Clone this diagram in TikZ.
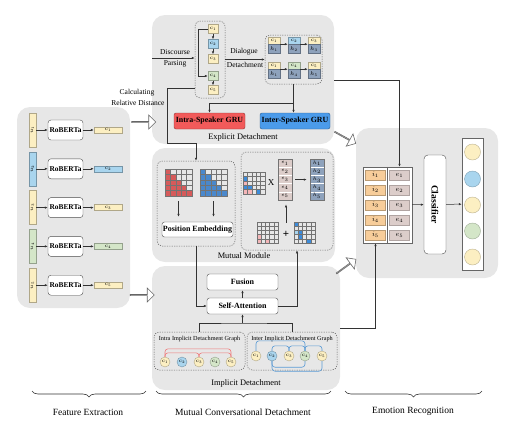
\RequirePackage{fix-cm}
\documentclass[tikz,border=0pt]{standalone}
\usepackage{fontspec}
\setmainfont{Liberation Serif}
\usepackage{tikz}
\usetikzlibrary{arrows.meta,positioning,shapes.arrows,decorations.pathreplacing}
\definecolor{panelgray}{HTML}{E7E7E7}
\definecolor{cy}{HTML}{FCEFC2}
\definecolor{cb}{HTML}{A9D5EE}
\definecolor{cg}{HTML}{D4E6C8}
\definecolor{hcolr}{HTML}{8EA2BC}
\definecolor{ecolr}{HTML}{DCCDCA}
\definecolor{iorange}{HTML}{F7CD9A}
\definecolor{grured}{HTML}{F25A5A}
\definecolor{grublue}{HTML}{4B9BEA}
\definecolor{matred}{HTML}{D65A5A}
\definecolor{matblue}{HTML}{4A88CC}
\definecolor{mpink}{HTML}{F4B6B8}
\definecolor{mblue}{HTML}{3D8BD9}
\definecolor{arcred}{HTML}{EF7B7B}
\definecolor{arcblue}{HTML}{5B9BD5}
\newcommand{\fsz}[1]{\fontsize{#1}{#1}\selectfont}
\tikzset{
  >={Latex[length=3pt,width=2.4pt]},
  panel/.style={fill=panelgray,rounded corners=13pt,inner sep=0pt},
  dotbox/.style={draw=black!60,dash pattern=on 1.2pt off 1.2pt,rounded corners=5pt,inner sep=0pt,line width=0.5pt},
  wbox/.style={draw=black!70,fill=white,rounded corners=2.5pt,inner sep=0pt,font=\bfseries\fsz{8}},
  lbl/.style={inner sep=0pt,font=\fsz{7.5}},
  ttl/.style={inner sep=0pt,font=\fsz{8.4}},
  tcell/.style={inner sep=0pt,font=\fsz{5.4},line width=0.4pt},
  arr/.style={->,draw=black!80,line width=0.5pt},
  link/.style={draw=black!80,line width=0.5pt},
  gline/.style={draw=black!55,line width=0.25pt},
  harrow/.style={single arrow,draw=black!60,fill=white,minimum height=24,minimum width=14,single arrow head extend=3.5pt,inner sep=0pt,line width=0.6pt},
  redarc/.style={draw=arcred,line width=0.6pt,rounded corners=3pt},
  bluearc/.style={draw=arcblue,line width=0.6pt,rounded corners=3pt},
  brc/.style={decorate,decoration={brace,amplitude=6pt,mirror},draw=black!80,line width=0.6pt}
}
% 5x5 grid with some coloured cells
\newcommand{\smat}[4]{%
  \foreach \ro/\co/\cc in {#4}{\fill[\cc] (#1+#3*\co-#3,#2+#3*\ro-#3) rectangle ++(#3,#3);}
  \foreach \ro in {1,...,5}{\foreach \co in {1,...,5}{\draw[gline] (#1+#3*\co-#3,#2+#3*\ro-#3) rectangle ++(#3,#3);}}}
% lower triangular grid
\newcommand{\trimat}[3]{%
  \foreach \ro in {1,...,5}{\foreach \co in {1,...,\ro}{\fill[#3] (#1+5.4*\co-5.4,#2+5.4*\ro-5.4) rectangle ++(5.4,5.4);}}
  \foreach \ro in {1,...,5}{\foreach \co in {1,...,5}{\draw[gline] (#1+5.4*\co-5.4,#2+5.4*\ro-5.4) rectangle ++(5.4,5.4);}}}

\begin{document}
\begin{tikzpicture}[x=1pt,y=-1pt]
  \useasboundingbox (0,0) rectangle (511,426);
  %%%% panels
  \node[panel,minimum width=113,minimum height=201] (fe) at (73.5,207.5) {}; % feature extraction
  \node[panel,minimum width=182,minimum height=129] (expl) at (243,79.5) {}; % explicit
  \node[panel,minimum width=183,minimum height=114] (mut) at (243.5,205) {}; % mutual
  \node[panel,minimum width=188,minimum height=124] (impl) at (246,328) {}; % implicit
  \node[panel,minimum width=142,minimum height=150] (emo) at (427,203) {}; % emotion
  \node[ttl] (texpl) at (243,137) {Explicit Detachment};
  \node[ttl] (tmut) at (244,256) {Mutual Module};
  \node[ttl] (timpl) at (246,383) {Implicit Detachment};
  %%%% hollow arrows between panels
  \node[harrow] (ha) at (143.5,122) {};
  \node[harrow] (hb) at (142,295) {};
  \node[harrow,rotate=-29] (hc) at (345,137.5) {};
  \node[harrow,rotate=36] (hd) at (346,266.5) {};

  %%%% feature extraction
  \foreach \i/\col [evaluate=\i as \yy using 130+(\i-1)*38.8] in {1/cy,2/cb,3/cy,4/cg,5/cy}{
    \node[tcell,fill=\col,draw=\col!70!black,minimum width=7,minimum height=34] (u\i) at (32.5,\yy) {\rotatebox{90}{$u_{\i}$}};
    \node[wbox,minimum width=35,minimum height=20,rounded corners=3pt,font=\bfseries\fsz{7.4}] (rb\i) at (65.5,\yy) {RoBERTa};
    \node[tcell,fill=\col,draw=\col!70!black,minimum width=28,minimum height=6] (f\i) at (108,\yy) {$c_{\i}$};
    \draw[arr] (u\i) -- (rb\i);
    \draw[arr] (rb\i) -- (f\i);
  }

  %%%% explicit detachment
  \node[dotbox,minimum width=30,minimum height=77] (dp) at (210,59.5) {}; % discourse
  \foreach \i/\col/\yy in {1/cy/29,2/cb/44,3/cy/59,4/cg/76,5/cy/90}
    \node[tcell,fill=\col,draw=\col!70!black,minimum width=10,minimum height=9] (p\i) at (213,\yy) {$c_{\i}$};
  \draw[arr] (p1) -- (p2);
  \draw[arr] (p2) -- (p3);
  \draw[arr] (p4) -- (p5);
  \draw[arr] (p1.west) -- ++(-10,0) |- (p4.west);
  \coordinate (dpin) at (152,58);
  \draw[arr] (dpin) -- (dpin -| dp.west);
  \node[lbl] (tdis) at (175,52) {Discourse};
  \node[lbl] (tpar) at (175,64) {Parsing};

  \node[dotbox,minimum width=57,minimum height=49] (dd) at (293.5,59.5) {}; % dialogue
  \foreach \j/\k/\col/\xx in {1/1/cy/274,2/2/cb/294,3/3/cy/314}{
    \node[tcell,fill=\col,draw=\col!70!black,minimum width=12,minimum height=7] (a\j) at (\xx,40.5) {$c_{\k}$};
    \node[tcell,fill=hcolr,draw=hcolr!70!black,minimum width=12,minimum height=9,below=0pt of a\j] (ha\j) {$h_{\k}$};
  }
  \foreach \j/\k/\col/\xx in {1/1/cy/274,2/4/cg/294,3/5/cy/314}{
    \node[tcell,fill=\col,draw=\col!70!black,minimum width=12,minimum height=7] (b\j) at (\xx,65.5) {$c_{\k}$};
    \node[tcell,fill=hcolr,draw=hcolr!70!black,minimum width=12,minimum height=9,below=0pt of b\j] (hb\j) {$h_{\k}$};
  }
  \draw[arr] (a1.south east) -- (a2.south west);
  \draw[arr] (a2.south east) -- (a3.south west);
  \draw[arr] (b1.south east) -- (b2.south west);
  \draw[arr] (b2.south east) -- (b3.south west);
  \draw[arr] (dp.east) -- (dd.west);
  \node[lbl] (tdia) at (244,52) {Dialogue};
  \node[lbl] (tdet) at (245,65) {Detachment};

  \node[wbox,fill=grured,draw=grured!60!black,rounded corners=2pt,minimum width=71,minimum height=16,font=\bfseries\fsz{7.9}] (intra) at (209.5,121) {Intra-Speaker GRU};
  \node[wbox,fill=grublue,draw=grublue!60!black,rounded corners=2pt,minimum width=70,minimum height=16,font=\bfseries\fsz{7.9}] (inter) at (295,121) {Inter-Speaker GRU};
  \draw[arr] (dd.south) -- (dd.south |- inter.north);
  \draw[arr] (dd.south) -- ++(0,19) -| (intra.north);

  %%%% mutual module
  \node[dotbox,minimum width=78,minimum height=85] (mleft) at (196,203.5) {};
  \node[dotbox,minimum width=92,minimum height=98] (mright) at (287,201) {};
  % relative distance
  \node[lbl] (tcal) at (137,93) {Calculating};
  \node[lbl] (trel) at (138,103) {Relative Distance};
  \coordinate (crd) at (195,88);
  \coordinate (crb) at (167,143);
  \draw[arr] (crd) -| (crb) -| (mleft.north);
  \trimat{165}{169}{matred}
  \trimat{200}{169}{matblue}
  \node[inner sep=0pt,minimum size=27] (rm) at (178.5,182.5) {};
  \node[inner sep=0pt,minimum size=27] (bm) at (213.5,182.5) {};
  \node[wbox,minimum width=71,minimum height=15] (pe) at (197.5,229.5) {Position Embedding};
  \draw[arr,shorten <=5pt,shorten >=5pt] (rm.south) -- (rm.south |- pe.north);
  \draw[arr,shorten <=5pt,shorten >=5pt] (bm.south) -- (bm.south |- pe.north);

  \smat{243}{172}{4.4}{2/1/mblue,3/1/mpink,4/1/mblue,4/2/mblue,5/1/mpink,5/2/mpink,5/4/mblue}
  \node[inner sep=0pt,minimum size=22] (qm) at (254,183) {};
  \node[inner sep=0pt,font=\fsz{9}] (times) at (271,183) {X};
  \foreach \k [evaluate=\k as \yy using 155+8.2*\k] in {1,...,5}{
    \node[tcell,font=\fsz{5},fill=ecolr,draw=white,minimum width=14,minimum height=8.2,line width=0.6pt] (ev\k) at (285,\yy) {$e_{\k}$};
    \node[tcell,font=\fsz{5},fill=hcolr,draw=white,minimum width=14,minimum height=8.2,line width=0.6pt] (hv\k) at (317,\yy) {$h_{\k}$};
  }
  \node[draw=black!55,minimum width=14,minimum height=41,inner sep=0pt] (ecol) at (285,179.6) {};
  \node[draw=black!55,minimum width=14,minimum height=41,inner sep=0pt] (hcol) at (317,179.6) {};
  \draw[arr,line width=0.8pt,shorten <=3pt,shorten >=3pt] (ecol) -- (hcol);
  \smat{257}{222}{4.2}{4/1/mpink,5/1/mpink,5/3/mpink}
  \smat{294}{222}{4.2}{1/1/mblue,3/1/cb,3/2/mblue,4/2/mblue,5/4/mblue}
  \node[inner sep=0pt,minimum size=21] (pm) at (267.5,232.5) {};
  \node[inner sep=0pt,minimum size=21] (sm) at (304.5,232.5) {};
  \node[inner sep=0pt,font=\bfseries\fsz{11}] (plus) at (286,234) {+};
  \draw[arr,line width=0.8pt,shorten <=8pt,shorten >=4pt] (plus.north) -- (plus.north |- ecol.south);

  %%%% implicit detachment
  \node[wbox,minimum width=71,minimum height=16] (fu) at (242.5,282) {Fusion};
  \node[wbox,minimum width=71,minimum height=16] (sa) at (242.5,306) {Self-Attention};
  \draw[arr] (sa) -- (fu);
  \draw[arr] (mleft.south) |- (sa.west);
  \draw[arr] (sa.east) -| ([xshift=10pt]mright.south);
  \node[dotbox,minimum width=91,minimum height=38] (ig1) at (199.5,351) {};
  \node[dotbox,minimum width=90,minimum height=38] (ig2) at (292,351) {};
  \node[inner sep=0pt,font=\fsz{6.2}] (tig1) at (199.5,339) {Intra Implicit Detachment Graph};
  \node[inner sep=0pt,font=\fsz{6.2}] (tig2) at (292,339) {Inter Implicit Detachment Graph};
  \coordinate (jn) at (242.5,323);
  \draw[link] (ig1.north) |- (jn) -| (ig2.north);
  \draw[arr] (jn) -- (sa);
  % graph nodes
  \foreach \k/\col/\xx in {1/cy/165,2/cb/182,3/cy/199,4/cg/215,5/cy/231}
    \node[tcell,circle,fill=\col,draw=\col!70!black,minimum size=10] (g\k) at (\xx,362) {$c_{\k}$};
  \foreach \k/\col/\xx in {1/cy/256,2/cb/272,3/cy/289,4/cg/305,5/cy/322}
    \node[tcell,circle,fill=\col,draw=\col!70!black,minimum size=10] (k\k) at (\xx,356) {$c_{\k}$};
  \draw[redarc] (g1.north) -- ++(0,-8) -| (g5.north);
  \draw[redarc] (g1.north) -- ++(0,-4) -| (g3.north);
  \draw[redarc] (g3.north) -- ++(0,-4) -| (g5.north);
  \draw[bluearc] (k1.north) -- ++(0,-10) -| (k4.north);
  \draw[bluearc] (k2.north) -- ++(0,-5) -| (k3.north);
  \draw[bluearc] (k3.north) -- ++(0,-5) -| (k4.north);
  \draw[bluearc] (k4.north) -- ++(0,-5) -| (k5.north);
  \draw[bluearc] (k2.south) -- ++(0,10) -| (k5.south);
  \draw[bluearc] (k2.south) -- ++(0,6) -| (k4.south);

  %%%% emotion recognition
  \node[draw=black!60,fill=white,minimum width=49,minimum height=76,inner sep=0pt] (emat) at (387.5,205) {};
  \draw[draw=black!60] (emat.north) -- (emat.south);
  \foreach \k [evaluate=\k as \yy using 160+15*\k] in {1,...,5}{
    \node[tcell,font=\fsz{7},fill=iorange,draw=iorange!75!black,minimum width=20,minimum height=10] (i\k) at (375.5,\yy) {$i_{\k}$};
    \node[tcell,font=\fsz{7},fill=ecolr,draw=ecolr!80!black,minimum width=20,minimum height=10] (ee\k) at (399.5,\yy) {$e_{\k}$};
  }
  \node[wbox,minimum width=22,minimum height=99,rounded corners=4pt,font=\bfseries\fsz{9.6}] (cls) at (435,204.5) {\rotatebox{-90}{Classifier}};
  \node[draw=black!60,fill=white,minimum width=21,minimum height=132,inner sep=0pt] (ocol) at (472.5,204) {};
  \foreach \k/\col/\yy in {1/cy/152,2/cb/179,3/cy/205,4/cg/231,5/cy/257}
    \node[circle,fill=\col,draw=\col!75!black,minimum size=16,inner sep=0pt,line width=0.4pt] (o\k) at (472.5,\yy) {};
  \draw[arr] (emat) -- (cls);
  \draw[arr] (cls) -- (ocol);
  \coordinate (xo) at (334,80);
  \coordinate (io) at (340,328);
  \draw[arr] (xo) -| (ee1.north |- emat.north);
  \draw[arr] (io) -| (i5.south |- emat.south);

  %%%% braces
  \draw[brc] (32,391) -- (146,391);
  \draw[brc] (156,391) -- (331,391);
  \draw[brc] (345,391) -- (482,391);
  \node[inner sep=0pt,font=\fsz{9.5}] (lfe) at (88,412) {Feature Extraction};
  \node[inner sep=0pt,font=\fsz{9.5}] (lmc) at (243,412) {Mutual Conversational Detachment};
  \node[inner sep=0pt,font=\fsz{9.5}] (ler) at (413,411) {Emotion Recognition};
\end{tikzpicture}
\end{document}
